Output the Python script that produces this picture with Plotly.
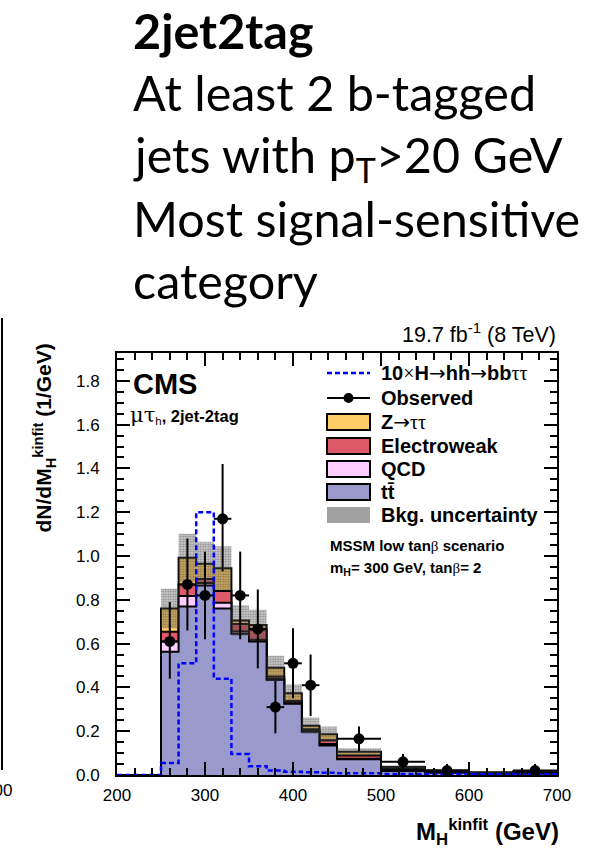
import numpy as np
import plotly.graph_objects as go

# ---------------- data ----------------
edges = [200, 250, 270, 290, 310, 330, 350, 370, 390, 410, 430, 450, 500, 550, 600, 650, 700]
ttbar = [0.0, 0.563, 0.770, 0.865, 0.760, 0.645, 0.610, 0.435, 0.325, 0.198, 0.135, 0.072, 0.018, 0.010, 0.006, 0.006]
qcd   = [0.0, 0.047, 0.047, 0.012, 0.027, 0.010, 0.008, 0.005, 0.003, 0.003, 0.006, 0.002, 0.002, 0.001, 0.001, 0.001]
ewk   = [0.0, 0.044, 0.053, 0.018, 0.053, 0.035, 0.045, 0.010, 0.010, 0.008, 0.018, 0.015, 0.007, 0.004, 0.002, 0.003]
ztt   = [0.0, 0.106, 0.122, 0.070, 0.104, 0.015, 0.022, 0.040, 0.035, 0.016, 0.027, 0.017, 0.010, 0.005, 0.003, 0.006]
bkg_unc = [0.0, 0.09, 0.11, 0.10, 0.10, 0.07, 0.07, 0.055, 0.04, 0.037, 0.035, 0.016, 0.008, 0.005, 0.004, 0.004]
signal = [0.0, 0.055, 0.51, 1.20, 0.44, 0.096, 0.040, 0.020, 0.015, 0.012, 0.010, 0.008, 0.005, 0.004, 0.003, 0.003]

obs_x    = [260, 280, 300, 320, 340, 360, 380, 400, 420, 475, 525, 575, 675]
obs_xerr = [10, 10, 10, 10, 10, 10, 10, 10, 10, 25, 25, 25, 25]
obs_y    = [0.61, 0.87, 0.82, 1.17, 0.82, 0.667, 0.31, 0.51, 0.41, 0.165, 0.06, 0.02, 0.02]
obs_up   = [0.18, 0.21, 0.20, 0.25, 0.20, 0.18, 0.12, 0.16, 0.14, 0.057, 0.036, 0.03, 0.03]
obs_dn   = [0.17, 0.21, 0.20, 0.24, 0.20, 0.18, 0.12, 0.16, 0.14, 0.057, 0.030, 0.015, 0.015]

xlabel_ticks = [200, 300, 400, 500, 600, 700]

# ---------------- helpers ----------------
def step_xy(vals):
    x = [edges[0]] + list(edges[:-1]) + [edges[-1]]
    y = [0.0] + list(vals) + [0.0]
    return x, y

W, H = 602, 849
L, R, T, B = 117, 557, 353, 775
def px(x):
    return (x - L) / (R - L)
def py(y):
    return (B - y) / (B - T)

C_TT = '#9999CC'
C_QCD = '#FFCCFF'
C_EWK = '#DE5A6A'
C_ZTT = '#FFCC66'

fig = go.Figure()

tt_c = np.array(ttbar)
qcd_c = tt_c + np.array(qcd)
ewk_c = qcd_c + np.array(ewk)
tot_c = ewk_c + np.array(ztt)
unc = np.array(bkg_unc)

for vals, col in [(tot_c, C_ZTT), (ewk_c, C_EWK), (qcd_c, C_QCD), (tt_c, C_TT)]:
    x, y = step_xy(vals)
    fig.add_trace(go.Scatter(x=x, y=y, mode='lines', line=dict(color='black', width=2, shape='hv'),
                             fill='tozeroy', fillcolor=col, showlegend=False, hoverinfo='skip'))

# uncertainty band
lo = np.where(tot_c > 0, tot_c - unc, 0)
hi = np.where(tot_c > 0, tot_c + unc, 0)
xl, yl = step_xy(lo)
xh, yh = step_xy(hi)
fig.add_trace(go.Scatter(x=xl, y=yl, mode='lines', line=dict(width=0, shape='hv'),
                         showlegend=False, hoverinfo='skip'))
fig.add_trace(go.Scatter(x=xh, y=yh, mode='lines', line=dict(width=0, shape='hv'),
                         fill='tonexty', fillcolor='rgba(0,0,0,0)',
                         fillpattern=dict(shape='.', fgcolor='rgba(40,40,40,0.85)', bgcolor='rgba(120,120,120,0.25)',
                                          size=2.5, solidity=0.6),
                         showlegend=False, hoverinfo='skip'))

# signal
ys = list(signal) + [signal[-1]]
fig.add_trace(go.Scatter(x=list(edges), y=ys, mode='lines',
                         line=dict(color='#0000FF', width=2.5, dash='5px,3px', shape='hv'),
                         showlegend=False, hoverinfo='skip'))

# observed
fig.add_trace(go.Scatter(x=obs_x, y=obs_y, mode='markers',
                         marker=dict(color='black', size=11),
                         error_y=dict(type='data', array=obs_up, arrayminus=obs_dn, color='black', thickness=2, width=0),
                         error_x=dict(type='data', array=obs_xerr, color='black', thickness=2, width=0),
                         showlegend=False, hoverinfo='skip'))

# ---------------- legend (manual) ----------------
shapes = []
annotations = []
LX0, LX1 = 327, 370
TX = 379
rows = [373, 398, 422, 446, 469, 492, 515]
FS = 20
F = 'Liberation Sans'

shapes.append(dict(type='line', xref='paper', yref='paper', x0=px(LX0), x1=px(LX1), y0=py(rows[0]), y1=py(rows[0]),
                   line=dict(color='#0000FF', width=2.5, dash='5px,3px')))
shapes.append(dict(type='line', xref='paper', yref='paper', x0=px(LX0), x1=px(LX1), y0=py(rows[1]), y1=py(rows[1]),
                   line=dict(color='black', width=2)))
shapes.append(dict(type='circle', xref='paper', yref='paper', x0=px(348.5 - 5), x1=px(348.5 + 5),
                   y0=py(rows[1] + 5), y1=py(rows[1] - 5), fillcolor='black', line=dict(color='black', width=0)))
for r, col in zip(rows[2:6], [C_ZTT, C_EWK, C_QCD, C_TT]):
    shapes.append(dict(type='rect', xref='paper', yref='paper', x0=px(LX0), x1=px(LX1), y0=py(r + 8), y1=py(r - 8),
                       fillcolor=col, line=dict(color='black', width=2)))
shapes.append(dict(type='rect', xref='paper', yref='paper', x0=px(LX0), x1=px(LX1), y0=py(rows[6] + 8), y1=py(rows[6] - 8),
                   fillcolor='#a0a0a0', line=dict(width=0)))

serif = "<span style='font-family:Liberation Serif;font-weight:normal'>"
arrow = "<span style='font-family:DejaVu Sans;font-weight:normal'>→</span>"
legend_texts = [
    "<b>10</b>" + serif + "×</span><b>H</b>" + arrow + "<b>hh</b>" + arrow + "<b>bb</b>" + serif + "ττ</span>",
    "<b>Observed</b>",
    "<b>Z</b>" + arrow + serif + "ττ</span>",
    "<b>Electroweak</b>",
    "<b>QCD</b>",
    "<b>tt̄</b>",
    "<b>Bkg. uncertainty</b>",
]
for r, t in zip(rows, legend_texts):
    annotations.append(dict(xref='paper', yref='paper', x=px(TX), y=py(r), xanchor='left', yanchor='middle',
                            text=t, showarrow=False, font=dict(family=F, size=FS, color='black')))

annotations.append(dict(xref='paper', yref='paper', x=px(328), y=py(545), xanchor='left', yanchor='middle',
                        text="<b>MSSM low tan</b>" + serif + "β</span><b> scenario</b>", showarrow=False,
                        font=dict(family=F, size=15, color='black')))
annotations.append(dict(xref='paper', yref='paper', x=px(328), y=py(568), xanchor='left', yanchor='middle',
                        text="<b>m<sub>H</sub>= 300 GeV, tan</b>" + serif + "β</span><b>= 2</b>", showarrow=False,
                        font=dict(family=F, size=15, color='black')))

# CMS labels
annotations.append(dict(xref='paper', yref='paper', x=px(131), y=py(384), xanchor='left', yanchor='middle',
                        text="<b>CMS</b>", showarrow=False, font=dict(family=F, size=29, color='black')))
annotations.append(dict(xref='paper', yref='paper', x=px(128), y=py(415), xanchor='left', yanchor='middle',
                        text="<span style='font-family:DejaVu Serif;font-size:21px'>μτ</span><sub>h</sub><b>, 2jet-2tag</b>",
                        showarrow=False, font=dict(family=F, size=16.5, color='black')))
annotations.append(dict(xref='paper', yref='paper', x=px(558), y=py(333), xanchor='right', yanchor='middle',
                        text="19.7 fb<sup>-1</sup> (8 TeV)", showarrow=False, font=dict(family=F, size=21.5, color='black')))

# axis titles
annotations.append(dict(xref='paper', yref='paper', x=px(44), y=py(342), xanchor='center', yanchor='top',
                        textangle=-90, text="<b>dN/dM<sub>H</sub><sup>kinfit</sup> (1/GeV)</b>", showarrow=False,
                        font=dict(family=F, size=21, color='black')))
annotations.append(dict(xref='paper', yref='paper', x=px(561), y=py(832), xanchor='right', yanchor='middle',
                        text="<b>M<sub>H</sub><sup>kinfit</sup> (GeV)</b>", showarrow=False,
                        font=dict(family=F, size=24, color='black')))

# slide text
SF = 'Lato'
slide = [("<b>2jet2tag</b>", 30), ("At least 2 b-tagged", 92), ("jets with p<sub>T</sub>>20 GeV", 157),
         ("Most signal-sensitive", 218), ("category", 280)]
for t, yc in slide:
    annotations.append(dict(xref='paper', yref='paper', x=px(131), y=py(yc), xanchor='left', yanchor='middle',
                            text=t, showarrow=False, font=dict(family=SF, size=48.5, color='black')))

# fragment of neighbouring plot at left edge
shapes.append(dict(type='line', xref='paper', yref='paper', x0=px(2), x1=px(2), y0=py(318), y1=py(770),
                   line=dict(color='black', width=2)))
annotations.append(dict(xref='paper', yref='paper', x=px(14), y=py(790), xanchor='right', yanchor='middle',
                        text="700", showarrow=False, font=dict(family=F, size=17, color='black')))

axis_common = dict(showline=True, linecolor='black', linewidth=2, mirror='allticks', ticks='inside',
                   tickcolor='black', tickwidth=2, ticklen=13, showgrid=False, zeroline=False,
                   tickfont=dict(family=F, size=17, color='black'))

fig.update_layout(
    width=W, height=H,
    margin=dict(l=L, r=W - R, t=T, b=H - B, pad=0),
    paper_bgcolor='white', plot_bgcolor='white',
    showlegend=False,
    shapes=shapes, annotations=annotations,
    xaxis=dict(range=[200, 700], tickmode='array', tickvals=xlabel_ticks, ticktext=[str(v) for v in xlabel_ticks],
               minor=dict(dtick=20, tick0=200, ticks='inside', ticklen=7, tickwidth=1.5, tickcolor='black'),
               ticklabelstandoff=4, **axis_common),
    yaxis=dict(range=[0, 1.927], dtick=0.2, tick0=0, tickformat='.1f',
               minor=dict(dtick=0.05, tick0=0, ticks='inside', ticklen=7, tickwidth=1.5, tickcolor='black'),
               ticklabelstandoff=12, **axis_common),
)

fig.write_html("out.html")
